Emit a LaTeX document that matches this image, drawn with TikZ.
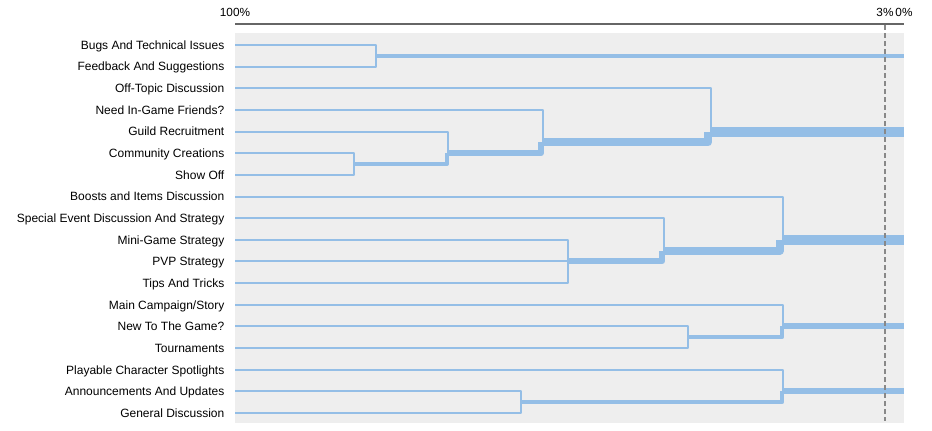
\documentclass[tikz,border=0pt]{standalone}
\usepackage{fontspec}
\setmainfont{Liberation Sans}
\usetikzlibrary{calc}
\definecolor{linkBlue}{HTML}{94BEE6}
\definecolor{panelGray}{HTML}{EEEEEE}
\definecolor{axisGray}{HTML}{666666}
\definecolor{cutGray}{HTML}{888888}
\newcommand{\rowy}[1]{45+21.647*#1}

\begin{document}
\begin{tikzpicture}[x=1pt,y=-1pt,
  link/.style={draw=linkBlue,line width=#1*1pt,line join=round},
  link/.default=2,
  leaf/.style={anchor=base east,inner sep=0pt,font=\fontsize{12}{14}\selectfont},
  tick/.style={inner sep=0pt,font=\fontsize{11.8}{14}\selectfont}]
\useasboundingbox (0,0) rectangle (932,431);
\fill[panelGray] (235,33) rectangle (904,423);
\draw[axisGray,line width=2pt] (235,24) -- (904,24);
\node[tick] (p100) at (235,12.5) {100\%};
\node[tick] (p3) at (885,12.5) {3\%};
\node[tick] (p0) at (904,12.5) {0\%};
\coordinate (rim) at (904,0);
% leaves
\foreach \lab [count=\i from 0] in {Bugs And Technical Issues,Feedback And Suggestions,
    Off-Topic Discussion,Need In-Game Friends?,Guild Recruitment,Community Creations,
    Show Off,Boosts and Items Discussion,Special Event Discussion And Strategy,
    Mini-Game Strategy,PVP Strategy,Tips And Tricks,Main Campaign/Story,
    New To The Game?,Tournaments,Playable Character Spotlights,
    Announcements And Updates,General Discussion} {
  \node[leaf] (t\i) at (224.5,{\rowy{\i}+4.3}) {\lab};
  \coordinate (l\i) at (235,{\rowy{\i}});
}
% merge points
\coordinate (m1) at (376,{\rowy{0.5}});
\coordinate (m2) at (354,{\rowy{5.5}});
\coordinate (m3) at (448,{\rowy{5}});
\coordinate (m4) at (543,{\rowy{4.5}});
\coordinate (m5) at (711,{\rowy{4}});
\coordinate (m6) at (568,{\rowy{10}});
\coordinate (m7) at (664,{\rowy{9.5}});
\coordinate (m8) at (783,{\rowy{9}});
\coordinate (m9) at (688,{\rowy{13.5}});
\coordinate (m10) at (783,{\rowy{13}});
\coordinate (m11) at (521,{\rowy{16.5}});
\coordinate (m12) at (783,{\rowy{16}});
% leaf links
\foreach \a/\b in {l0/m1,l1/m1,l2/m5,l3/m4,l4/m3,l5/m2,l6/m2,l7/m8,l8/m7,
    l9/m6,l10/m6,l11/m6,l12/m10,l13/m9,l14/m9,l15/m12,l16/m11,l17/m11}
  \draw[link] (\a) -| (\b);
% cluster links
\foreach \w/\a/\b in {4/m2/m3,6/m3/m4,8/m4/m5,6/m6/m7,8/m7/m8,4/m9/m10,4/m11/m12}
  \draw[link=\w] (\a) -| ([xshift={(1-\w/2)*1pt}]\b);
% stems to 0%
\foreach \w/\a in {4/m1,10/m5,10/m8,6/m10,6/m12}
  \draw[link=\w] (\a) -- (\a -| rim);
% cut line
\draw[cutGray,line width=2pt,dash pattern=on 5pt off 3pt] (p3 |- 0,25) -- (p3 |- 0,421);
\end{tikzpicture}
\end{document}
